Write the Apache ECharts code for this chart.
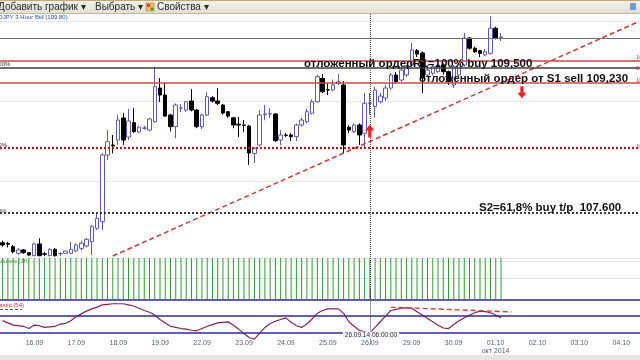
<!DOCTYPE html>
<html><head><meta charset="utf-8">
<script src="https://cdn.jsdelivr.net/npm/echarts@6/dist/echarts.min.js"></script>
<style>html,body{margin:0;padding:0;background:#fff;overflow:hidden}#c{width:640px;height:360px}</style>
</head><body><div id="c"></div>
<script>
// ---- data ----
const dayLabels = ['16.09','17.09','18.09','19.09','22.09','23.09','24.09','25.09','26.09','29.09','30.09','01.10','02.10','03.10','04.10'];
// [open, close, low, high] per 3-hour bar
const candles = [
[107.229,107.200,107.179,107.254],[107.220,107.210,107.170,107.240],[107.179,107.117,107.096,107.200],[107.096,107.138,107.075,107.163],
[107.138,107.104,107.090,107.150],[107.104,107.075,107.060,107.110],[107.066,107.213,107.060,107.229],[107.213,107.066,107.060,107.283],
[107.090,107.085,107.060,107.117],[107.066,107.146,107.060,107.160],[107.146,107.066,107.055,107.160],[107.090,107.093,107.060,107.110],
[107.096,107.125,107.090,107.130],[107.096,107.146,107.090,107.242],[107.125,107.200,107.110,107.220],[107.158,107.221,107.130,107.254],
[107.188,107.271,107.170,107.290],[107.242,107.429,107.075,107.450],[107.408,107.533,107.388,107.596],[107.492,108.325,107.388,108.346],
[108.325,108.492,108.263,108.637],[108.450,108.440,108.346,108.575],[108.512,108.762,108.450,108.825],[108.787,108.512,108.450,108.850],
[108.550,108.750,108.512,108.900],[108.729,108.617,108.600,108.912],[108.612,108.675,108.600,108.690],[108.660,108.662,108.640,108.690],
[108.637,108.775,108.620,108.790],[108.741,109.179,108.730,109.429],[109.162,109.075,108.987,109.287],[109.075,108.812,108.800,109.225],
[108.825,108.679,108.620,108.840],[108.679,108.950,108.537,108.970],[108.910,108.912,108.860,108.960],[108.887,108.991,108.860,109.000],
[109.000,108.887,108.870,109.150],[108.887,108.679,108.660,108.900],[108.679,108.825,108.650,108.840],[108.825,109.054,108.810,109.110],
[109.041,109.000,108.980,109.060],[109.000,108.971,108.950,109.160],[108.950,108.850,108.830,108.960],[108.866,108.812,108.790,108.870],
[108.791,108.700,108.660,108.800],[108.710,108.700,108.550,108.800],[108.700,108.695,108.610,108.760],[108.687,108.350,108.200,108.700],
[108.345,108.408,108.225,108.420],[108.450,108.825,108.430,108.887],[108.830,108.838,108.760,108.950],[108.838,108.840,108.790,108.910],
[108.837,108.504,108.490,108.850],[108.512,108.575,108.450,108.637],[108.575,108.570,108.550,108.600],[108.575,108.554,108.500,108.600],
[108.554,108.700,108.500,108.720],[108.700,108.762,108.680,108.790],[108.741,108.866,108.720,108.900],[108.846,108.991,108.830,109.020],
[108.991,109.304,108.980,109.330],[109.283,109.116,109.100,109.337],[109.140,109.137,109.075,109.225],[109.137,109.200,109.120,109.270],
[109.220,109.240,109.200,109.337],[109.200,108.450,108.350,109.250],[108.671,108.637,108.600,108.700],[108.616,108.700,108.600,108.720],
[108.700,108.575,108.450,108.720],[108.596,108.971,108.425,109.100],[108.970,108.975,108.830,109.100],[108.929,109.137,108.800,109.180],
[108.991,109.062,108.970,109.100],[109.037,109.162,109.000,109.200],[109.162,109.325,109.140,109.350],[109.325,109.241,109.220,109.360],
[109.262,109.387,109.240,109.420],[109.325,109.429,109.300,109.450],[109.450,109.637,109.430,109.725],[109.629,109.587,109.550,109.650],
[109.600,109.287,109.100,109.620],[109.325,109.387,109.300,109.450],[109.346,109.429,109.320,109.450],[109.367,109.450,109.350,109.480],
[109.450,109.367,109.330,109.470],[109.367,109.241,109.200,109.380],[109.200,109.429,109.162,109.450],[109.325,109.450,109.300,109.480],
[109.450,109.787,109.430,109.850],[109.787,109.659,109.640,109.800],[109.659,109.616,109.600,109.680],[109.629,109.596,109.550,109.640],
[109.575,109.616,109.560,109.650],[109.596,109.909,109.580,110.062],[109.909,109.784,109.770,109.930],[109.795,109.800,109.750,109.850]
];
const volumes = [1,1,1,1,1,1,1,1,1,1,1,1,1,1,1,1,1,1,1,1,1,1,1,1,1,1,1,1,1,1,1,1,1,1,1,1,1,1,1,1,1,1,1,1,1,1,1,1,
1,1,1,1,1,1,1,1,1,1,1,1,1,1,1,1,1,1,1,1,1,1,1,1,1,1,1,1,1,1,1,1,1,1,1,1,1,1,1,1,1,1,1,1,1,1,1,1];
const stoch = [42,38,34,33,32,28,34,33,30,31,32,36,37,42,49,54,59,63,66,70,71,72,72,72,70,68,64,60,57,52,
44,38,32,30,28,27,25,24,28,32,35,38,39,40,34,27,19,12,9,20,30,37,41,44,47,39,33,30,36,45,
55,60,63,63,63,55,40,32,25,22,20,30,40,50,60,62,64,65,64,58,52,46,40,34,29,28,35,42,47,52,
56,59,58,56,52,47];
const stochLevels = [80, 50, 20];
const currentPrice = 109.79;
const redLevels = [109.5, 109.23];
const fibLevel100 = 109.41;
const s1Level = 108.41;
const s2Level = 107.6;
const trendLine = [[21, 107.0625], [121, 109.985]];
const stochTrend = [[74, 66], [97, 57.5]];
const markerIndex = 70;
const upArrow = [70, 108.625];
const downArrow = [99, 109.11];

// ---- build ----
const SLOTS = 122;
const cats = [];
for (let i = 0; i < SLOTS; i++) {
  const k = i - 6;
  cats.push(k >= 0 && k % 8 === 0 && dayLabels[k / 8] ? dayLabels[k / 8] : '');
}
const chart = echarts.init(document.getElementById('c'), null, {renderer: 'canvas'});
const W = 642.6;
function xa(idx, showLabel) {
  return {
    type: 'category', gridIndex: idx, data: cats, boundaryGap: true,
    axisLine: {show: false}, axisTick: {show: false},
    axisLabel: showLabel ? {
      show: true, interval: 0, margin: 1, fontSize: 7, color: '#5a6070',
      fontFamily: 'Liberation Sans, Arial', lineHeight: 8,
      formatter: v => v === '01.10' ? '01.10\nокт 2014' : v
    } : {show: false},
    splitLine: {show: false}
  };
}
const vline = (type, color) => ({xAxis: markerIndex, lineStyle: {color: color || '#555', type: type || 'dotted', width: 1}});
const arrowUp = 'path://M5,0 L10,6 L6.8,6 L6.8,13 L3.2,13 L3.2,6 L0,6 Z';
const arrowDown = 'path://M3.2,0 L6.8,0 L6.8,7 L10,7 L5,13 L0,7 L3.2,7 Z';
const F = '"Liberation Sans", Arial';

const option = {
  animation: false,
  backgroundColor: '#fff',
  grid: [
    {left: 0, top: 13, width: W, height: 248},
    {left: 0, top: 258, width: W, height: 41},
    {left: 0, top: 288, width: W, height: 56.3},
    {left: 0, top: 330, width: W, height: 8}
  ],
  xAxis: [xa(0, false), xa(1, false), xa(2, false), xa(3, true)],
  yAxis: [
    {gridIndex: 0, type: 'value', min: 107, max: 110.1, interval: 1, axisLine: {show: false}, axisTick: {show: false},
     axisLabel: {show: false}, splitLine: {lineStyle: {color: '#d6d6d6', type: 'dotted'}}},
    {gridIndex: 1, type: 'value', min: 0, max: 1, interval: 0.5, axisLine: {show: false}, axisTick: {show: false},
     axisLabel: {show: false}, splitLine: {lineStyle: {color: '#e4e4e4', width: 1}}},
    {gridIndex: 2, type: 'value', min: 0, max: 100, axisLine: {show: false}, axisTick: {show: false},
     axisLabel: {show: false}, splitLine: {show: false}},
    {gridIndex: 3, type: 'value', show: false}
  ],
  series: [
    {
      type: 'candlestick', xAxisIndex: 0, yAxisIndex: 0, data: candles, barWidth: 4, z: 3,
      itemStyle: {color: '#ffffff', color0: '#000000', borderColor: '#5a5ab0', borderColor0: '#000000', borderWidth: 1},
      markLine: {
        silent: true, symbol: 'none', label: {show: false}, animation: false,
        data: [
          {yAxis: currentPrice, lineStyle: {color: '#707070', type: 'solid', width: 1}},
          {yAxis: redLevels[0], lineStyle: {color: '#c84a44', type: 'solid', width: 1.6}},
          {yAxis: fibLevel100, lineStyle: {color: '#3c3c3c', type: 'solid', width: 1.6}},
          {yAxis: redLevels[1], lineStyle: {color: '#c84a44', type: 'solid', width: 1.6}},
          {yAxis: s1Level, lineStyle: {color: '#a81c1c', type: [2, 2], width: 2.2}},
          {yAxis: s2Level, lineStyle: {color: '#2a2a2a', type: [2, 2], width: 1.8}},
          vline('dotted', '#444')
        ]
      },
      markPoint: {
        silent: true, label: {show: false},
        data: [
          {coord: upArrow, symbol: arrowUp, symbolSize: [9, 13], itemStyle: {color: '#e4231e'}},
          {coord: downArrow, symbol: arrowDown, symbolSize: [9, 12], itemStyle: {color: '#e4231e'}}
        ]
      }
    },
    {
      type: 'line', xAxisIndex: 0, yAxisIndex: 0, data: trendLine, symbol: 'none', z: 4, silent: true,
      lineStyle: {color: '#cc3a34', type: [5, 3], width: 1.5}
    },
    {
      type: 'bar', xAxisIndex: 1, yAxisIndex: 1, data: volumes, barWidth: 1, silent: true,
      itemStyle: {color: '#2f9a35'},
      markLine: {silent: true, symbol: 'none', label: {show: false}, data: [vline('dotted', '#444')]}
    },
    {
      type: 'line', xAxisIndex: 2, yAxisIndex: 2, data: stoch, symbol: 'none', z: 4, silent: true,
      lineStyle: {color: '#8a2050', width: 1.2},
      markLine: {
        silent: true, symbol: 'none', label: {show: false},
        data: stochLevels.map(v => ({yAxis: v, lineStyle: {color: '#2a2aa0', type: 'solid', width: 1.5}}))
          .concat([{xAxis: markerIndex, lineStyle: {color: '#444', type: 'dotted', width: 1}}])
      }
    },
    {
      type: 'line', xAxisIndex: 2, yAxisIndex: 2, data: stochTrend, symbol: 'none', z: 5, silent: true,
      lineStyle: {color: '#d83a36', type: [5, 3], width: 1.4}
    }
  ],
  graphic: [
    // toolbar
    {type: 'rect', z: 100, shape: {x: 0, y: 0, width: 640, height: 13},
     style: {fill: new echarts.graphic.LinearGradient(0, 0, 0, 1, [{offset: 0, color: '#f4f3ee'}, {offset: 1, color: '#e2e0d4'}])}},
    {type: 'rect', z: 101, shape: {x: 0, y: 0, width: 640, height: 1}, style: {fill: '#c8a870'}},
    {type: 'rect', z: 101, shape: {x: 0, y: 13, width: 640, height: 1}, style: {fill: '#bdb9aa'}},
    {type: 'text', z: 102, x: -2, y: 7, style: {text: 'Добавить график ▾', font: '10px ' + F, fill: '#2a2a2a', textVerticalAlign: 'middle'}},
    {type: 'text', z: 102, x: 95, y: 7, style: {text: 'Выбрать ▾', font: '10px ' + F, fill: '#2a2a2a', textVerticalAlign: 'middle'}},
    {type: 'rect', z: 102, shape: {x: 146, y: 3, width: 8, height: 8}, style: {fill: '#f0c060', stroke: '#c07030', lineWidth: 0.6}},
    {type: 'rect', z: 103, shape: {x: 147, y: 4, width: 3, height: 3}, style: {fill: '#d04040'}},
    {type: 'rect', z: 103, shape: {x: 150.5, y: 7.5, width: 3, height: 3}, style: {fill: '#40a040'}},
    {type: 'text', z: 102, x: 157, y: 7, style: {text: 'Свойства ▾', font: '10px ' + F, fill: '#2a2a2a', textVerticalAlign: 'middle'}},
    {type: 'rect', z: 102, shape: {x: 630, y: 3, width: 6, height: 7, r: 1}, style: {fill: '#6a9ad8'}},
    // title
    {type: 'text', z: 50, x: -10, y: 17, style: {text: 'USDJPY 3 Hour Bid (109.80)', font: '6px ' + F, fill: '#2850a8', textVerticalAlign: 'middle'}},
    // fib labels on the left
    {type: 'text', z: 50, x: -5, y: 64.5, style: {text: '100%', font: '6px ' + F, fill: '#333', textVerticalAlign: 'middle'}},
    {type: 'text', z: 50, x: -5, y: 145.5, style: {text: '50%', font: '6px ' + F, fill: '#333', textVerticalAlign: 'middle'}},
    {type: 'text', z: 50, x: -2, y: 211, style: {text: '0%', font: '6px ' + F, fill: '#333', textVerticalAlign: 'middle'}},
    // right-edge price labels (cut off)
    {type: 'text', z: 50, x: 636, y: 57, style: {text: '109.50', font: '6px ' + F, fill: '#c04040', textVerticalAlign: 'middle'}},
    {type: 'text', z: 50, x: 636, y: 68, style: {text: '109.41', font: '6px ' + F, fill: '#c04040', textVerticalAlign: 'middle'}},
    {type: 'text', z: 50, x: 636, y: 80, style: {text: '109.23', font: '6px ' + F, fill: '#c04040', textVerticalAlign: 'middle'}},
    {type: 'text', z: 50, x: 636, y: 146, style: {text: '108.41', font: '6px ' + F, fill: '#c04040', textVerticalAlign: 'middle'}},
    // annotations
    {type: 'text', z: 60, x: 304, y: 64, style: {text: 'отложенный ордерR1=100% buy 109,500', font: 'bold 11.5px ' + F, fill: '#111', textVerticalAlign: 'middle'}},
    {type: 'text', z: 60, x: 419, y: 79, style: {text: 'отложенный ордер от S1 sell 109,230', font: 'bold 11.5px ' + F, fill: '#111', textVerticalAlign: 'middle'}},
    {type: 'text', z: 60, x: 479, y: 208, style: {text: 'S2=61,8% buy t/p  107.600', font: 'bold 11.5px ' + F, fill: '#111', textVerticalAlign: 'middle'}},
    // pane labels
    {type: 'text', z: 50, x: -4, y: 261.5, style: {text: 'Volumes (3H)', font: '5.5px ' + F, fill: '#2f9a35', textVerticalAlign: 'middle'}},
    {type: 'text', z: 50, x: -16, y: 305, style: {text: 'Stochastic (54)', font: '6px ' + F, fill: '#c03c3c', textVerticalAlign: 'middle'}},
    {type: 'line', z: 50, shape: {x1: 0, y1: 309.5, x2: 22, y2: 309.5}, style: {stroke: '#c03c3c', lineWidth: 1, lineDash: [3, 2]}},
    // marker time label
    {type: 'text', z: 60, x: 371, y: 335, style: {text: '26.09.14 06:00:00', font: '6.5px ' + F, fill: '#333', textAlign: 'center', textVerticalAlign: 'middle', backgroundColor: '#f2f2f2', padding: [0, 2]}},
    // bottom strip
    {type: 'rect', z: 40, shape: {x: 0, y: 355, width: 640, height: 5}, style: {fill: '#e6e6e6'}}
  ]
};
chart.setOption(option);
</script>
</body></html>
